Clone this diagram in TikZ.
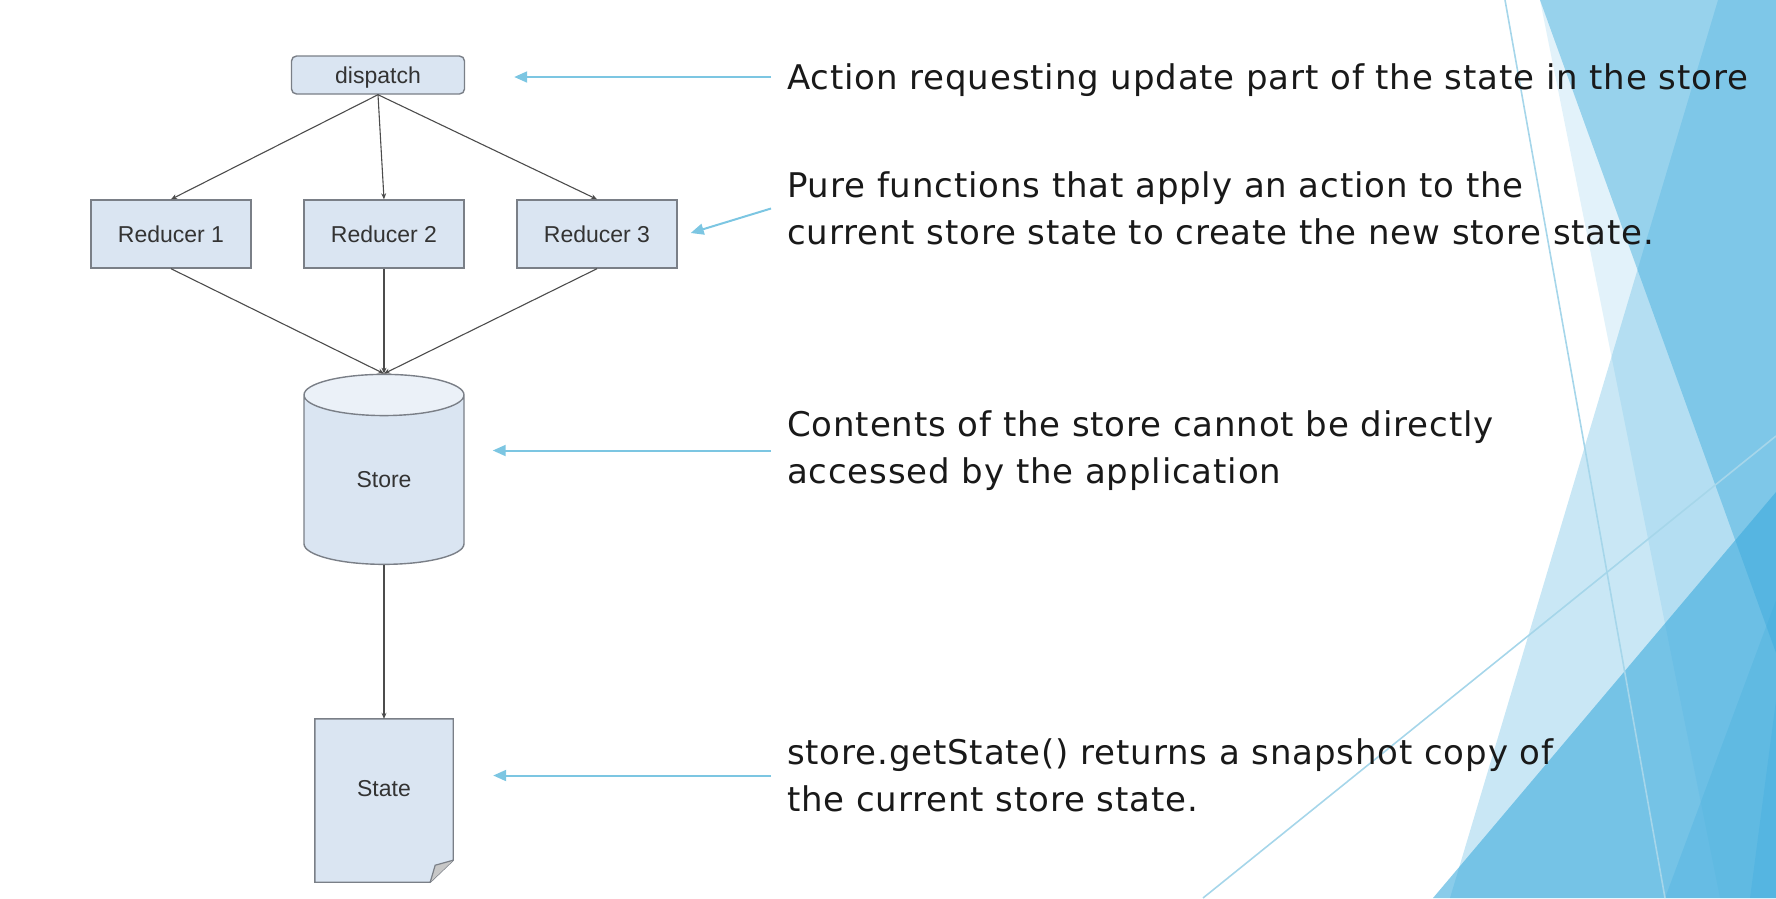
\documentclass[tikz,border=0pt]{standalone}
\usepackage{fontspec}
\setmainfont{Liberation Sans}
\newfontfamily\notefont[LetterSpace=2.5]{DejaVu Sans}
\usetikzlibrary{arrows.meta,shapes.geometric}

\definecolor{boxfill}{HTML}{DAE5F2}
\definecolor{boxline}{HTML}{7A7F87}
\definecolor{facet}{HTML}{3CAADC}
\definecolor{noteline}{HTML}{7CC6E2}
\definecolor{thinline}{HTML}{A6D6EA}

\begin{document}
\begin{tikzpicture}[x=1pt, y=-1pt,
      every node/.style={font={\fontsize{23}{27}\selectfont}, text=black!80, inner sep=0pt},
      block/.style={draw=boxline, line width=1.4pt, fill=boxfill, text depth=0pt,
                    minimum width=160pt, minimum height=68pt},
      docshape/.style={minimum width=138pt, minimum height=163pt},
      flow/.style={draw=black!70, line width=1.1pt, -{Stealth[length=6pt,width=5pt]}},
      note/.style={draw=noteline, line width=2pt, -{Triangle[length=13pt,width=11pt]}},
      notetext/.style={anchor=west, align=left, text=black!90,
                       font={\notefont\fontsize{34}{46.5}\selectfont}},
      facetline/.style={draw=thinline, line width=1.6pt}
    ]
    \useasboundingbox (0,0) rectangle (1776,898);
    \fill[facet, fill opacity=.15] (1540,0) -- (1776,0) -- (1776,898) -- (1720,898) -- cycle;
    \fill[facet, fill opacity=.45] (1540,0) -- (1776,0) -- (1776,653) -- cycle;
    \fill[facet, fill opacity=.28] (1718,0) -- (1776,0) -- (1776,898) -- (1450,898) -- cycle;
    \fill[facet, fill opacity=.6] (1776,492) -- (1776,898) -- (1433,898) -- cycle;
    \fill[facet, fill opacity=.25] (1776,600) -- (1776,898) -- (1665,898) -- cycle;
    \fill[facet, fill opacity=.3] (1776,700) -- (1776,898) -- (1750,898) -- cycle;
    \draw[facetline] (1505,0) -- (1665,898);
    \draw[facetline] (1203,898) -- (1776,436);

    \node[block, rounded corners=5pt, minimum width=173pt, minimum height=38pt]
      (dispatch) at (378,75) {dispatch};
    \node[block] (red1) at (171,234) {Reducer 1};
    \node[block] (red2) at (384,234) {Reducer 2};
    \node[block] (red3) at (597,234) {Reducer 3};
    \node[cylinder, shape border rotate=90, draw=boxline, line width=1.4pt,
          cylinder uses custom fill, cylinder body fill=boxfill,
          cylinder end fill=boxfill!55!white, aspect=0.75,
          minimum width=160pt, minimum height=190pt] (store) at (384,480) {Store};
    \node[docshape] (state) at (384,800.5) {};
    \filldraw[fill=boxfill, draw=boxline, line width=1.4pt]
      (state.north west) -- (state.north east) -- ([yshift=22pt]state.south east)
      -- ([xshift=-23pt]state.south east) -- (state.south west) -- cycle;
    \filldraw[fill=black!22, draw=boxline, line width=1.2pt]
      ([yshift=22pt]state.south east) -- ([xshift=-18pt,yshift=17pt]state.south east)
      -- ([xshift=-23pt]state.south east);
    \node (state text) at ([yshift=12pt]state.center) {State};

    \foreach \r in {red1,red2,red3} {
      \draw[flow] (dispatch.south) -- (\r.north);
      \draw[flow] (\r.south) -- (store.north);
    }
    \draw[flow] (store.south) -- (state.north);

    \node[notetext] (note1) at (787,80) {Action requesting update part of the state in the store};
    \node[notetext] (note2) at (787,208.5) {Pure functions that apply an action to the\\current store state to create the new store state.};
    \node[notetext] (note3) at (787,450.5) {Contents of the store cannot be directly\\accessed by the application};
    \node[notetext] (note4) at (787,775.5) {store.getState() returns a snapshot copy of\\the current store state.};

    \draw[note] ([xshift=-16pt,yshift=3pt]note1.west) -- ([xshift=49pt,yshift=-2pt]dispatch.east);
    \draw[note] ([xshift=-16pt]note2.west) -- ([xshift=13pt,yshift=1pt]red3.east);
    \draw[note] ([xshift=-16pt]note3.west) -- ([xshift=28pt]store.east |- note3.west);
    \draw[note] ([xshift=-16pt]note4.west) -- ([xshift=40pt]state.east |- note4.west);
  \end{tikzpicture}
\end{document}
